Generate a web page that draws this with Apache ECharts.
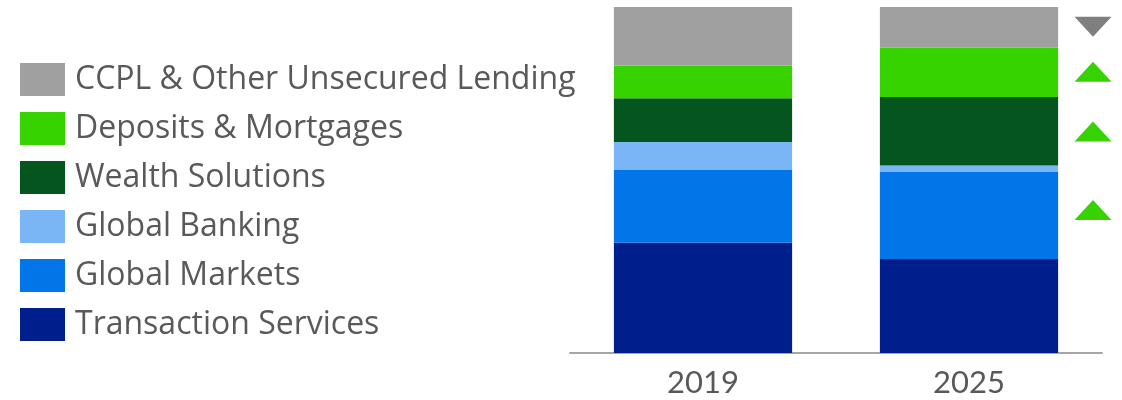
<!DOCTYPE html>
<html>
<head>
<meta charset="utf-8">
<script src="https://cdn.jsdelivr.net/npm/echarts@6/dist/echarts.min.js"></script>
<style>
  html, body { margin: 0; padding: 0; background: #ffffff; }
  #chart { width: 1122px; height: 400px; }
</style>
</head>
<body>
<div id="chart"></div>
<script>
// Revenue mix by business line, share of total (%)
const years = ['2019', '2025'];
const segmentNames = [
  'Transaction Services',
  'Global Markets',
  'Global Banking',
  'Wealth Solutions',
  'Deposits & Mortgages',
  'CCPL & Other Unsecured Lending'
];
const transactionServices = [31.9, 27.2];
const globalMarkets       = [21.1, 25.1];
const globalBanking       = [8.0, 1.9];
const wealthSolutions     = [12.6, 19.8];
const depositsMortgages   = [9.4, 14.2];
const ccplOther           = [17.0, 11.8];

// Direction of change 2019 -> 2025, shown beside the 2025 bar
const trendLevels = [94.3, 81.3, 64.0, 41.3];
const trendDirections = ['down', 'up', 'up', 'up'];

const segmentValues = [
  transactionServices, globalMarkets, globalBanking,
  wealthSolutions, depositsMortgages, ccplOther
];
const segmentColors = ['#001e8c', '#0276e8', '#7ab6f5', '#05561e', '#36d300', '#a0a0a0'];

const FONT = 'Lato';
const LEGEND_FONT = 'Open Sans';
const TEXT_COLOR = '#595959';

const barSeries = segmentNames.map((name, i) => ({
  name: name,
  type: 'bar',
  stack: 'mix',
  barWidth: '67%',
  data: segmentValues[i],
  itemStyle: { color: segmentColors[i] },
  emphasis: { disabled: true }
}));

const trendSeries = {
  type: 'scatter',
  silent: true,
  symbol: 'triangle',
  symbolSize: [37, 20],
  symbolOffset: [124, 0],
  data: trendLevels.map((v, i) => ({
    value: ['2025', v],
    symbolRotate: trendDirections[i] === 'down' ? 180 : 0,
    itemStyle: {
      color: trendDirections[i] === 'down' ? '#7f7f7f' : '#36d300',
      opacity: 1
    }
  })),
  z: 5
};

const chart = echarts.init(document.getElementById('chart'), null, { renderer: 'canvas' });
chart.setOption({
  animation: false,
  grid: { left: 570, right: 20, top: 7, bottom: 47 },
  legend: {
    orient: 'vertical',
    left: 20,
    top: 63,
    padding: 0,
    itemWidth: 45,
    itemHeight: 33,
    itemGap: 16,
    icon: 'rect',
    selectedMode: false,
    data: segmentNames.slice().reverse(),
    textStyle: {
      fontFamily: LEGEND_FONT,
      fontSize: 32,
      color: TEXT_COLOR,
      padding: [0, 0, 0, 5]
    }
  },
  xAxis: {
    type: 'category',
    data: years,
    axisTick: { show: false },
    axisLine: { lineStyle: { color: '#a6a6a6', width: 2 } },
    axisLabel: {
      fontFamily: FONT,
      fontSize: 31,
      color: TEXT_COLOR,
      margin: 14
    }
  },
  yAxis: {
    type: 'value',
    min: 0,
    max: 100,
    show: false,
    splitLine: { show: false }
  },
  series: barSeries.concat([trendSeries])
});
</script>
</body>
</html>
